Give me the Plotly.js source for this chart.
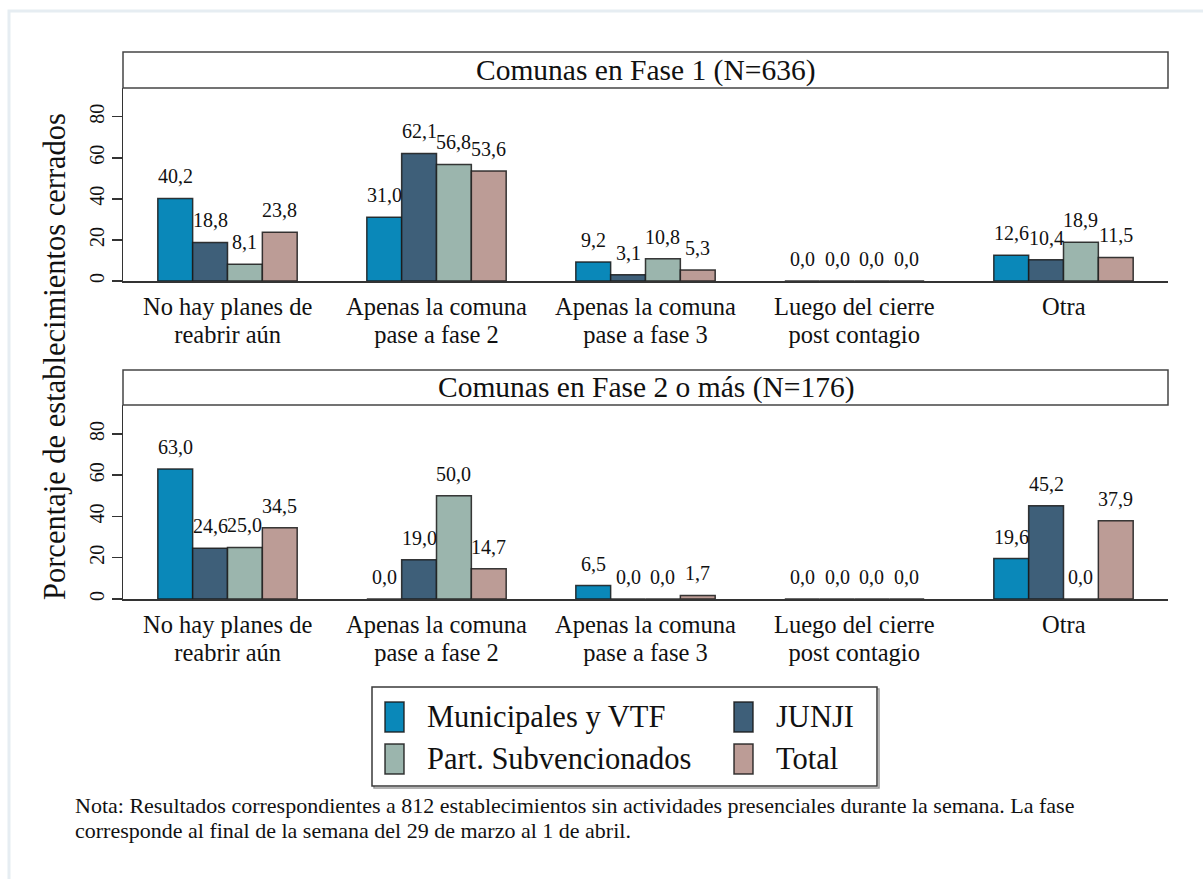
<!DOCTYPE html>
<html>
<head>
<meta charset="utf-8">
<script src="https://cdn.plot.ly/plotly-3.0.1.min.js"></script>
<style>html,body{margin:0;padding:0;background:#fff;}#chart{width:1203px;height:879px;}</style>
</head>
<body>
<div id="chart"></div>
<script>
// ---- data ----
const categoryLine1 = ['No hay planes de', 'Apenas la comuna', 'Apenas la comuna', 'Luego del cierre', 'Otra'];
const categoryLine2 = ['reabrir aún', 'pase a fase 2', 'pase a fase 3', 'post contagio', ''];
const categories = ['No hay planes de reabrir aún', 'Apenas la comuna pase a fase 2', 'Apenas la comuna pase a fase 3', 'Luego del cierre post contagio', 'Otra'];
const seriesNames = ['Municipales y VTF', 'JUNJI', 'Part. Subvencionados', 'Total'];
const seriesColors = ['#0a88b9', '#3e5f79', '#9bb5ad', '#bc9c96'];
const panelTitles = ['Comunas en Fase 1 (N=636)', 'Comunas en Fase 2 o más (N=176)'];
const fase1Municipales = [40.2, 31.0, 9.2, 0.0, 12.6];
const fase1Junji = [18.8, 62.1, 3.1, 0.0, 10.4];
const fase1PartSub = [8.1, 56.8, 10.8, 0.0, 18.9];
const fase1Total = [23.8, 53.6, 5.3, 0.0, 11.5];
const fase2Municipales = [63.0, 0.0, 6.5, 0.0, 19.6];
const fase2Junji = [24.6, 19.0, 0.0, 0.0, 45.2];
const fase2PartSub = [25.0, 50.0, 0.0, 0.0, 0.0];
const fase2Total = [34.5, 14.7, 1.7, 0.0, 37.9];
const yTickVals = [0, 20, 40, 60, 80];
const yGridVals = [20, 40, 60];
const yTitle = 'Porcentaje de establecimientos cerrados';
const noteLines = ['Nota: Resultados correspondientes a 812 establecimientos sin actividades presenciales durante la semana. La fase',
                   'corresponde al final de la semana del 29 de marzo al 1 de abril.'];

// ---- layout geometry ----
const W = 1203, H = 879;
const ML = 123, MR = 35, MT = 52, MB = 280;
const PW = W - ML - MR, PH = H - MT - MB;
const px2x = p => (p - ML) / PW;
const px2y = p => (H - MB - p) / PH;
const FONT = 'Liberation Serif';
const TXT = '#111111';
const BARGAP = 0.333;
const barW = PW / categories.length * (1 - BARGAP) / seriesNames.length;

// multi-line text with a chosen line pitch: base size sets the line spacing (1.3em), spans set glyph size
const tightLines = (lines, glyphPx) => lines.filter(l => l).map(l => '<span style="font-size:' + glyphPx + 'px">' + l + '</span>').join('<br>');

const CAT_GLYPH = 24.5, CAT_PITCH = 27.5;
const NOTE_GLYPH = 22, NOTE_PITCH = 24.5;

const panels = [
  {series: [fase1Municipales, fase1Junji, fase1PartSub, fase1Total], xa: 'x', ya: 'y', top: 88, bottom: 281, stripTop: 52},
  {series: [fase2Municipales, fase2Junji, fase2PartSub, fase2Total], xa: 'x2', ya: 'y2', top: 405, bottom: 599, stripTop: 370}
];

const fmt = v => v.toFixed(1).replace('.', ',');

const traces = [];
const annotations = [];
const shapes = [];

panels.forEach((pn, pi) => {
  pn.series.forEach((vals, si) => {
    traces.push({
      type: 'bar', x: categories, y: vals, name: seriesNames[si],
      xaxis: pn.xa, yaxis: pn.ya, showlegend: false,
      marker: {color: seriesColors[si], line: {color: 'rgba(25,25,25,0.85)', width: 1.5}},
      hovertemplate: '%{y:.1f}<extra>' + seriesNames[si] + '</extra>'
    });
    vals.forEach((v, ci) => {
      annotations.push({
        xref: pn.xa, yref: pn.ya, x: categories[ci], y: v, text: fmt(v),
        xshift: (si - (seriesNames.length - 1) / 2) * barW, yshift: 9,
        yanchor: 'bottom', xanchor: 'center', showarrow: false,
        font: {family: FONT, size: 20, color: TXT}
      });
    });
  });
  // category labels (two lines each)
  categories.forEach((c, ci) => {
    const lines = [categoryLine1[ci], categoryLine2[ci]].filter(l => l);
    annotations.push({xref: pn.xa, yref: 'paper', x: c, y: px2y(pn.bottom + 25.5 + (lines.length - 1) * CAT_PITCH / 2),
      text: tightLines(lines, CAT_GLYPH), showarrow: false, xanchor: 'center', yanchor: 'middle',
      font: {family: FONT, size: CAT_PITCH / 1.3, color: TXT}});
  });
  // strip header
  shapes.push({type: 'rect', xref: 'paper', yref: 'paper', x0: 0, x1: 1,
    y0: px2y(pn.top), y1: px2y(pn.stripTop), line: {color: '#454545', width: 1.5}, fillcolor: '#ffffff'});
  annotations.push({xref: 'paper', yref: 'paper', x: 0.5, y: px2y((pn.top + pn.stripTop) / 2),
    text: panelTitles[pi], showarrow: false, xanchor: 'center', yanchor: 'middle',
    font: {family: FONT, size: 29.5, color: TXT}});
});

// y title
annotations.push({xref: 'paper', yref: 'paper', x: px2x(55), y: px2y(357), text: yTitle, textangle: -90,
  showarrow: false, xanchor: 'center', yanchor: 'middle', font: {family: FONT, size: 30.5, color: TXT}});

// legend (manual, two columns)
shapes.push({type: 'rect', xref: 'paper', yref: 'paper', x0: px2x(374), x1: px2x(879), y0: px2y(788), y1: px2y(689),
  line: {color: '#9a9a9a', width: 1.5}, fillcolor: 'rgba(0,0,0,0)'});
shapes.push({type: 'rect', xref: 'paper', yref: 'paper', x0: px2x(372), x1: px2x(877), y0: px2y(786), y1: px2y(687),
  line: {color: '#3a3a3a', width: 1.5}, fillcolor: '#ffffff'});
const legCols = [385, 734];
const legRows = [717, 759];
seriesNames.forEach((nm, si) => {
  const cx = legCols[si % 2], cy = legRows[Math.floor(si / 2)];
  shapes.push({type: 'rect', xref: 'paper', yref: 'paper', x0: px2x(cx), x1: px2x(cx + 19),
    y0: px2y(cy + 15), y1: px2y(cy - 15), line: {color: 'rgba(25,25,25,0.85)', width: 1.5}, fillcolor: seriesColors[si]});
  annotations.push({xref: 'paper', yref: 'paper', x: px2x(cx + 40), y: px2y(cy), text: nm, showarrow: false,
    xanchor: 'left', yanchor: 'middle', font: {family: FONT, size: 30.5, color: TXT}});
});

// note (two lines, one text block)
annotations.push({xref: 'paper', yref: 'paper', x: px2x(73), y: px2y(806 + NOTE_PITCH / 2), text: tightLines(noteLines, NOTE_GLYPH),
  showarrow: false, xanchor: 'left', yanchor: 'middle', align: 'left', font: {family: FONT, size: NOTE_PITCH / 1.3, color: TXT}});

// outer graph region border
shapes.push({type: 'rect', xref: 'paper', yref: 'paper', x0: px2x(9), x1: px2x(1215), y0: px2y(890), y1: px2y(11),
  line: {color: '#e6edf2', width: 3}, fillcolor: 'rgba(0,0,0,0)', layer: 'below'});

const xaxisBase = {
  type: 'category', categoryorder: 'array', categoryarray: categories, range: [-0.5, categories.length - 0.5],
  showline: true, linecolor: '#333', linewidth: 1.5, ticks: '', showgrid: false, zeroline: false,
  showticklabels: false, fixedrange: true
};
const yaxisBase = {
  range: [0, 94], tickvals: yTickVals, ticktext: yTickVals.map(String), tickangle: -90,
  showline: true, linecolor: '#333', linewidth: 1.5, ticks: 'outside', ticklen: 10, tickwidth: 1.5, tickcolor: '#333',
  showgrid: false, zeroline: false, tickfont: {family: FONT, size: 20, color: TXT}, fixedrange: true
};
const gridBase = {
  range: [0, 94], tickvals: yGridVals, showticklabels: false, ticks: '', showline: false, zeroline: false,
  showgrid: true, gridcolor: '#e8f0f2', gridwidth: 1.5, fixedrange: true
};

const layout = {
  width: W, height: H, margin: {l: ML, r: MR, t: MT, b: MB},
  paper_bgcolor: '#ffffff', plot_bgcolor: '#ffffff', separators: ',.',
  barmode: 'group', bargap: BARGAP, bargroupgap: 0, showlegend: false,
  font: {family: FONT, color: TXT},
  xaxis: Object.assign({}, xaxisBase, {anchor: 'y'}),
  yaxis: Object.assign({}, yaxisBase, {anchor: 'x', domain: [px2y(281), px2y(88)]}),
  xaxis2: Object.assign({}, xaxisBase, {anchor: 'y2'}),
  yaxis2: Object.assign({}, yaxisBase, {anchor: 'x2', domain: [px2y(599), px2y(405)]}),
  yaxis3: Object.assign({}, gridBase, {overlaying: 'y', anchor: 'x'}),
  yaxis4: Object.assign({}, gridBase, {overlaying: 'y2', anchor: 'x2'}),
  shapes: shapes, annotations: annotations
};

Plotly.newPlot('chart', traces, layout, {displayModeBar: false, staticPlot: true});
</script>
</body>
</html>
